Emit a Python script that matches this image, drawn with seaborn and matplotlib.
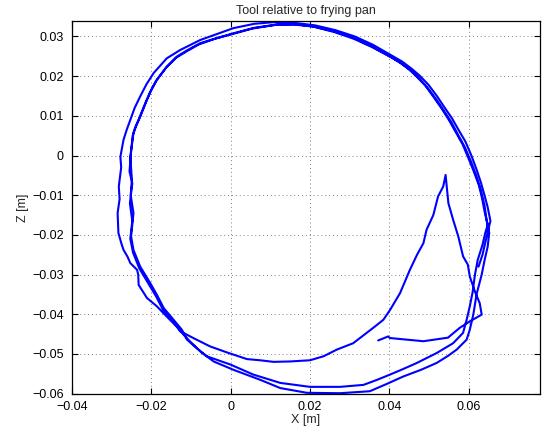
import numpy as np
import pandas as pd
import matplotlib
matplotlib.use("Agg")
import matplotlib.pyplot as plt
import seaborn as sns

# ---- data ----
pass1_x = [0.0625, 0.0635, 0.0643, 0.0650, 0.0655, 0.0648, 0.0640, 0.0631, 0.0620, 0.0607,
           0.0592, 0.0575, 0.0558, 0.0540, 0.0520, 0.0499, 0.0477, 0.0456, 0.0432, 0.0406,
           0.0359, 0.0313, 0.0264, 0.0213, 0.0164, 0.0108, 0.0060, 0.0007,
           -0.0035, -0.0077, -0.0127, -0.0161, -0.0194, -0.0212, -0.0228, -0.0242, -0.0253, -0.0262,
           -0.0270, -0.0278, -0.0276, -0.0282, -0.0280, -0.0285, -0.0283, -0.0276, -0.0270, -0.0260,
           -0.0253, -0.0236, -0.0233, -0.0232, -0.0220, -0.0211, -0.0186, -0.0161, -0.0136, -0.0120,
           -0.0102, -0.0075, -0.0043, 0.0007, 0.0074, 0.0125, 0.0192, 0.0276, 0.0351, 0.0395,
           0.0435, 0.0480, 0.0519, 0.0548, 0.0570, 0.0595, 0.0603, 0.0612, 0.0620, 0.0633,
           0.0640, 0.0648, 0.0652]
pass1_z = [-0.0280, -0.0250, -0.0215, -0.0185, -0.0165, -0.0130, -0.0100, -0.0068, -0.0035, 0.0000,
           0.0035, 0.0064, 0.0094, 0.0120, 0.0150, 0.0178, 0.0201, 0.0219, 0.0237, 0.0252,
           0.0279, 0.0300, 0.0316, 0.0328, 0.0334, 0.0336, 0.0332, 0.0321,
           0.0306, 0.0291, 0.0266, 0.0245, 0.0208, 0.0180, 0.0149, 0.0120, 0.0090, 0.0065,
           0.0040, -0.0003, -0.0030, -0.0078, -0.0110, -0.0145, -0.0195, -0.0220, -0.0238, -0.0255,
           -0.0271, -0.0288, -0.0300, -0.0326, -0.0345, -0.0359, -0.0380, -0.0406, -0.0431, -0.0450,
           -0.0469, -0.0495, -0.0519, -0.0540, -0.0565, -0.0586, -0.0598, -0.0599, -0.0594, -0.0575,
           -0.0557, -0.0540, -0.0523, -0.0505, -0.0489, -0.0464, -0.0439, -0.0400, -0.0350, -0.0300,
           -0.0265, -0.0230, -0.0195]

pass2_x = [0.0645, 0.0640, 0.0630, 0.0619, 0.0606, 0.0590, 0.0573, 0.0556, 0.0538, 0.0518,
           0.0497, 0.0475, 0.0454, 0.0430, 0.0404, 0.0357, 0.0311, 0.0262, 0.0211, 0.0162,
           0.0116, 0.0060, 0.0007, -0.0035, -0.0077, -0.0110, -0.0136, -0.0161, -0.0186, -0.0200,
           -0.0211, -0.0228, -0.0238, -0.0245, -0.0253, -0.0249, -0.0252, -0.0245, -0.0251, -0.0245,
           -0.0236, -0.0228, -0.0203, -0.0186, -0.0169, -0.0144, -0.0123, -0.0110, -0.0085, -0.0060,
           0.0000, 0.0057, 0.0125, 0.0200, 0.0276, 0.0335, 0.0370, 0.0402, 0.0435, 0.0469,
           0.0519, 0.0561, 0.0586, 0.0595, 0.0603, 0.0610, 0.0616, 0.0623, 0.0635, 0.0642]
pass2_z = [-0.0160, -0.0125, -0.0085, -0.0050, -0.0015, 0.0022, 0.0053, 0.0085, 0.0112, 0.0142,
           0.0170, 0.0195, 0.0214, 0.0232, 0.0248, 0.0273, 0.0294, 0.0311, 0.0324, 0.0331,
           0.0330, 0.0322, 0.0308, 0.0296, 0.0283, 0.0265, 0.0249, 0.0224, 0.0191, 0.0165,
           0.0140, 0.0098, 0.0075, 0.0056, -0.0003, -0.0061, -0.0100, -0.0145, -0.0204, -0.0238,
           -0.0260, -0.0280, -0.0321, -0.0351, -0.0384, -0.0414, -0.0439, -0.0464, -0.0486, -0.0506,
           -0.0527, -0.0552, -0.0573, -0.0583, -0.0583, -0.0578, -0.0565, -0.0552, -0.0538, -0.0523,
           -0.0498, -0.0473, -0.0447, -0.0414, -0.0380, -0.0345, -0.0300, -0.0263, -0.0225, -0.0195]

pass3_x = [0.0648, 0.0640, 0.0634, 0.0626, 0.0613, 0.0600, 0.0585, 0.0568, 0.0550, 0.0533,
           0.0512, 0.0491, 0.0470, 0.0449, 0.0425, 0.0399, 0.0352, 0.0306, 0.0257, 0.0206,
           0.0157, 0.0112, 0.0055, 0.0004, -0.0040, -0.0080, -0.0112, -0.0138, -0.0163, -0.0188,
           -0.0203, -0.0214, -0.0230, -0.0241, -0.0247, -0.0251, -0.0255, -0.0248, -0.0254, -0.0248,
           -0.0253, -0.0246, -0.0230, -0.0206, -0.0188, -0.0171, -0.0145, -0.0127, -0.0094, -0.0052,
           -0.0010, 0.0041, 0.0074, 0.0108, 0.0150, 0.0200, 0.0234, 0.0268, 0.0309, 0.0343,
           0.0365, 0.0385, 0.0402, 0.0427, 0.0452, 0.0470, 0.0486, 0.0494, 0.0511, 0.0523,
           0.0536, 0.0542]
pass3_z = [-0.0175, -0.0140, -0.0108, -0.0075, -0.0040, -0.0008, 0.0028, 0.0058, 0.0090, 0.0117,
           0.0147, 0.0176, 0.0198, 0.0218, 0.0236, 0.0251, 0.0277, 0.0298, 0.0314, 0.0326,
           0.0330, 0.0329, 0.0320, 0.0306, 0.0294, 0.0280, 0.0262, 0.0246, 0.0221, 0.0188,
           0.0160, 0.0135, 0.0095, 0.0070, 0.0050, 0.0010, -0.0040, -0.0070, -0.0120, -0.0165,
           -0.0210, -0.0245, -0.0285, -0.0325, -0.0355, -0.0388, -0.0418, -0.0443, -0.0460, -0.0481,
           -0.0496, -0.0513, -0.0516, -0.0520, -0.0519, -0.0516, -0.0506, -0.0489, -0.0473, -0.0447,
           -0.0430, -0.0414, -0.0389, -0.0347, -0.0288, -0.0250, -0.0221, -0.0187, -0.0150, -0.0103,
           -0.0078, -0.0049]

tail_x = [0.0549, 0.0561, 0.0574, 0.0586, 0.0598, 0.0603, 0.0616, 0.0628, 0.0633, 0.0603,
          0.0578, 0.0548, 0.0486, 0.0402, 0.0397, 0.0372]
tail_z = [-0.0120, -0.0162, -0.0204, -0.0254, -0.0275, -0.0305, -0.0343, -0.0372, -0.0401, -0.0418,
          -0.0434, -0.0459, -0.0468, -0.0460, -0.0456, -0.0466]

x_ticks = [-0.04, -0.02, 0, 0.02, 0.04, 0.06]
x_labels = ["\u22120.04", "\u22120.02", "0", "0.02", "0.04", "0.06"]
z_ticks = [-0.06, -0.05, -0.04, -0.03, -0.02, -0.01, 0, 0.01, 0.02, 0.03]
z_labels = ["\u22120.06", "\u22120.05", "\u22120.04", "\u22120.03", "\u22120.02", "\u22120.01",
            "0", "0.01", "0.02", "0.03"]

# ---- build table ----
xs = pass1_x + pass2_x + pass3_x + tail_x
zs = pass1_z + pass2_z + pass3_z + tail_z
df = pd.DataFrame({"X": xs, "Z": zs, "order": np.arange(len(xs))})

sns.set_style("ticks")
plt.rcParams["font.family"] = ["Liberation Sans", "DejaVu Sans"]

fig = plt.figure(figsize=(5.47, 4.32), dpi=100)
ax = fig.add_axes([72 / 547, 1 - 394 / 432, (540 - 72) / 547, (394 - 21) / 432])

sns.lineplot(data=df, x="X", y="Z", sort=False, estimator=None, color="#0000ff",
             linewidth=1.5, ax=ax)

ax.set_xlim(-0.04, 0.078)
ax.set_ylim(-0.0601, 0.0339)
ax.set_xticks(x_ticks)
ax.set_xticklabels(x_labels)
ax.set_yticks(z_ticks)
ax.set_yticklabels(z_labels)
ax.grid(True, linestyle=(0, (1, 3)), color="#808080", linewidth=0.7)
ax.tick_params(direction="in", top=True, right=True, length=4, width=0.8,
               labelsize=9, colors="black")
ax.tick_params(axis="x", pad=5)
ax.tick_params(axis="y", pad=6)
for s in ax.spines.values():
    s.set_visible(True)
    s.set_color("black")
    s.set_linewidth(0.9)

ax.set_title("Tool relative to frying pan", fontsize=9, pad=5)
ax.set_xlabel("X [m]", fontsize=9, labelpad=1)
ax.set_ylabel("Z [m]", fontsize=9, labelpad=2)

fig.savefig("out.png", dpi=100)
